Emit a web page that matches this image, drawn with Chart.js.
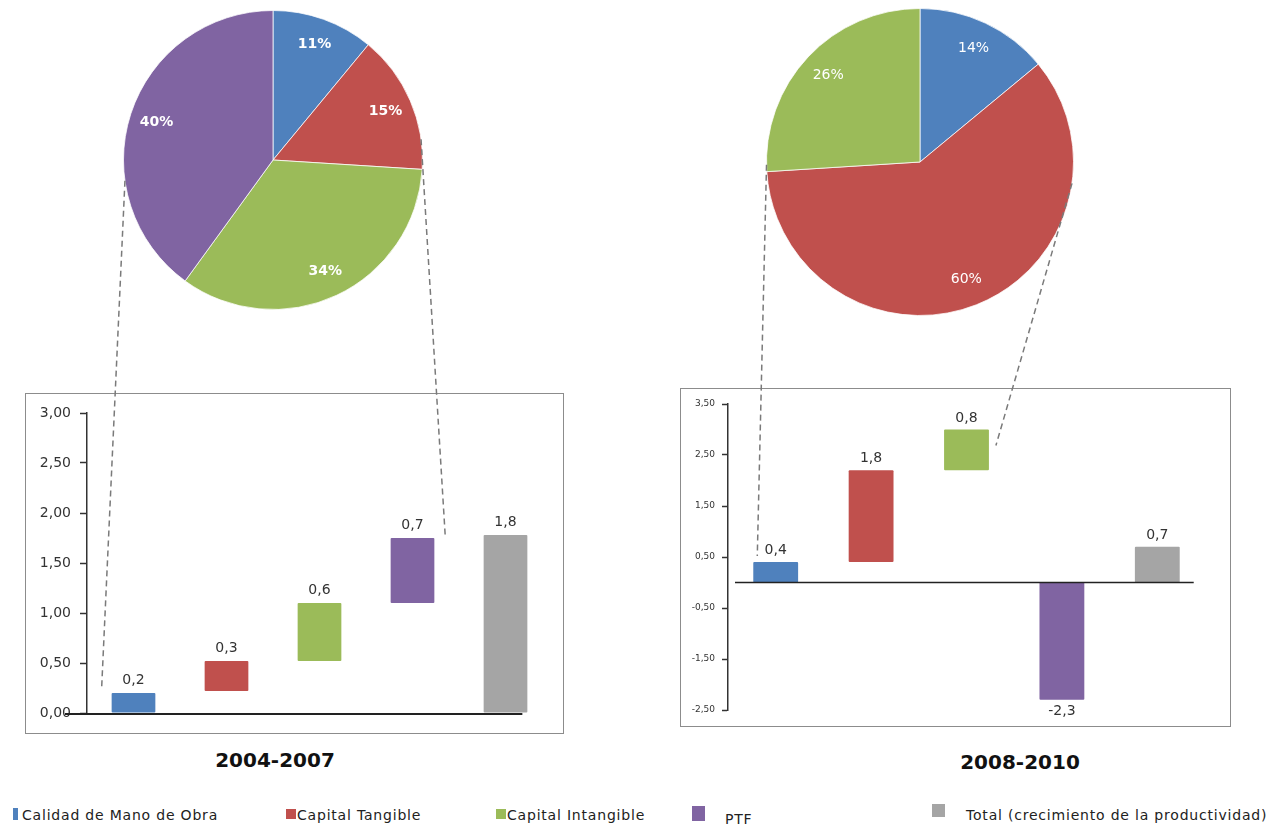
<!DOCTYPE html>
<html><head><meta charset="utf-8">
<script src="https://cdn.jsdelivr.net/npm/chart.js@4.4.1/dist/chart.umd.min.js"></script>
<style>
html,body{margin:0;padding:0;background:#fff;width:1270px;height:825px;overflow:hidden;font-family:"DejaVu Sans",sans-serif;}
.abs{position:absolute;}
.box{position:absolute;border:1px solid #8c8c8c;background:#fff;}
#box1{left:25px;top:393px;width:537px;height:339px;}
#box2{left:680px;top:388px;width:549px;height:337px;}
.box canvas{position:absolute;left:0;top:0;}
.title{position:absolute;font-weight:bold;font-size:20px;color:#111;text-align:center;width:200px;line-height:24px;}
.lg{position:absolute;font-size:14px;letter-spacing:0.8px;color:#222;line-height:18px;white-space:nowrap;}
.sw{position:absolute;}
#overlay{position:absolute;left:0;top:0;z-index:5;pointer-events:none;}
</style>
</head>
<body>
<canvas id="pie1" class="abs" width="320" height="320" style="left:113px;top:0px"></canvas>
<canvas id="pie2" class="abs" width="324" height="324" style="left:758px;top:0px"></canvas>
<div id="box1" class="box"><canvas id="bar1" width="537" height="339"></canvas></div>
<div id="box2" class="box"><canvas id="bar2" width="549" height="337"></canvas></div>
<div id="t1" class="title" style="left:175px;top:748px"></div>
<div id="t2" class="title" style="left:920px;top:750px"></div>
<div id="legend"></div>
<canvas id="overlay" width="1270" height="825"></canvas>
<script>
// ---------- data ----------
const categories = ['Calidad de Mano de Obra','Capital Tangible','Capital Intangible','PTF','Total (crecimiento de la productividad)'];
const colors = ['#4F81BD','#C0504D','#9BBB59','#8064A2','#A5A5A5'];
const periods = ['2004-2007','2008-2010'];

const pie1Values = [11, 15, 34, 40];
const pie2Values = [14, 60, 26];

const bar1Start = [0, 0.22, 0.52, 1.10, 0];
const bar1End   = [0.20, 0.52, 1.10, 1.75, 1.78];
const bar1Text  = ['0,2','0,3','0,6','0,7','1,8'];
const bar1Ticks = [0, 0.5, 1, 1.5, 2, 2.5, 3];

const bar2Start = [0, 0.4, 2.2, 0, 0];
const bar2End   = [0.4, 2.2, 3.0, -2.3, 0.7];
const bar2Text  = ['0,4','1,8','0,8','-2,3','0,7'];
const bar2Ticks = [-2.5, -1.5, -0.5, 0.5, 1.5, 2.5, 3.5];

// ---------- plugins ----------
const pieLabels = {
  id:'pieLabels',
  afterDatasetsDraw(chart, args, o){
    const ctx = chart.ctx;
    const ds = chart.data.datasets[0];
    ctx.save();
    ctx.font = o.font;
    ctx.fillStyle = '#fff';
    ctx.textAlign = 'center';
    ctx.textBaseline = 'middle';
    chart.getDatasetMeta(0).data.forEach((arc,i)=>{
      const v = ds.data[i];
      if(!v) return;
      const mid = (arc.startAngle + arc.endAngle)/2;
      const r = arc.outerRadius * o.r;
      ctx.fillText(v + '%', arc.x + Math.cos(mid)*r, arc.y + Math.sin(mid)*r);
    });
    ctx.restore();
  }
};

const barValues = {
  id:'barValues',
  afterDatasetsDraw(chart, args, o){
    const ctx = chart.ctx;
    const ds = chart.data.datasets[0];
    ctx.save();
    ctx.font = o.font;
    ctx.fillStyle = '#333';
    ctx.textAlign = 'center';
    chart.getDatasetMeta(0).data.forEach((el,i)=>{
      const [s,e] = ds.data[i];
      if (e < 0) {
        ctx.textBaseline = 'top';
        ctx.fillText(o.texts[i], el.x, Math.max(el.y, el.base) + o.gapBelow);
      } else {
        ctx.textBaseline = 'alphabetic';
        ctx.fillText(o.texts[i], el.x, Math.min(el.y, el.base) - o.gapAbove);
      }
    });
    ctx.restore();
  }
};

const zeroLine = {
  id:'zeroLine',
  afterDatasetsDraw(chart, args, o){
    const ctx = chart.ctx;
    const y = chart.scales.y.getPixelForValue(0);
    const bars = chart.getDatasetMeta(0).data;
    const last = bars[bars.length-1];
    ctx.save();
    ctx.strokeStyle = o.color;
    ctx.lineWidth = o.width;
    ctx.beginPath();
    ctx.moveTo(chart.chartArea.left - o.extLeft, y + o.dy);
    ctx.lineTo(last.x + last.width/2 + o.extRight, y + o.dy);
    ctx.stroke();
    ctx.restore();
  }
};

// ---------- charts ----------
function pieChart(id, values, pad, font){
  return new Chart(document.getElementById(id), {
    type:'pie',
    data:{labels:categories.slice(0, values.length),
      datasets:[{data:values, backgroundColor:colors.slice(0, values.length),
        borderColor:'rgba(255,255,255,0.75)', borderWidth:1}]},
    options:{responsive:false, animation:false, events:[],
      layout:{padding:pad},
      plugins:{legend:{display:false}, tooltip:{enabled:false},
        pieLabels:{font:font, r:0.82}}},
    plugins:[pieLabels]
  });
}

function barChart(id, start, end, texts, ticks, o){
  return new Chart(document.getElementById(id), {
    type:'bar',
    data:{labels:categories,
      datasets:[{data:start.map((s,i)=>[s, end[i]]), backgroundColor:colors,
        borderWidth:0, borderSkipped:false, borderRadius:1,
        barPercentage:o.barPct, categoryPercentage:1}]},
    options:{responsive:false, animation:false, events:[],
      layout:{padding:o.padding},
      plugins:{legend:{display:false}, tooltip:{enabled:false},
        barValues:{texts:texts, font:'14px "DejaVu Sans"', gapAbove:o.gapAbove, gapBelow:o.gapBelow},
        zeroLine:{color:'#222', width:o.zeroWidth, extLeft:o.extLeft, extRight:o.extRight, dy:o.zeroDy}},
      scales:{
        x:{display:false},
        y:{min:ticks[0], max:ticks[ticks.length-1],
          afterBuildTicks:s=>{ s.ticks = ticks.map(v=>({value:v})); },
          afterFit:s=>{ s.width = o.axisWidth; },
          border:{display:true, color:'#333', width:1.5},
          grid:{drawOnChartArea:false, drawTicks:true, tickLength:o.tickLength, tickColor:'#333', tickWidth:1.5},
          ticks:{padding:o.tickPad, color:'#333', font:{family:'"DejaVu Sans"', size:o.tickSize},
            callback:v=>Number(v).toFixed(2).replace('.', ',')}
        }
      }
    },
    plugins:[barValues, zeroLine]
  });
}

const pie1 = pieChart('pie1', pie1Values, 10, 'bold 14px "DejaVu Sans"');
const pie2 = pieChart('pie2', pie2Values, 8, '14px "DejaVu Sans"');

const bar1 = barChart('bar1', bar1Start, bar1End, bar1Text, bar1Ticks, {
  barPct:0.47, padding:{top:19, right:11, bottom:20, left:0}, axisWidth:61,
  tickLength:7, tickPad:9, tickSize:14, gapAbove:9, gapBelow:5,
  zeroWidth:2, extLeft:22, extRight:-5, zeroDy:1
});
const bar2 = barChart('bar2', bar2Start, bar2End, bar2Text, bar2Ticks, {
  barPct:0.47, padding:{top:15, right:25, bottom:16, left:0}, axisWidth:47,
  tickLength:6, tickPad:7, tickSize:9, gapAbove:8, gapBelow:5,
  zeroWidth:1.5, extLeft:-7, extRight:14, zeroDy:0
});

// ---------- titles & legend ----------
document.getElementById('t1').textContent = periods[0];
document.getElementById('t2').textContent = periods[1];

const legendLayout = [
  {sw:[13,808,5,12],  tx:[22,806]},
  {sw:[286,809,10,10], tx:[297,806]},
  {sw:[496,809,10,10], tx:[507,806]},
  {sw:[692,806,13,15], tx:[725,810]},
  {sw:[932,804,13,13], tx:[966,806]}
];
const lg = document.getElementById('legend');
categories.forEach((c,i)=>{
  const L = legendLayout[i];
  const s = document.createElement('div');
  s.className = 'sw';
  s.style.cssText = `left:${L.sw[0]}px;top:${L.sw[1]}px;width:${L.sw[2]}px;height:${L.sw[3]}px;background:${colors[i]};`;
  lg.appendChild(s);
  const t = document.createElement('div');
  t.className = 'lg';
  t.style.left = L.tx[0]+'px'; t.style.top = L.tx[1]+'px';
  t.textContent = c;
  lg.appendChild(t);
});

// ---------- dashed connectors (computed from chart geometry) ----------
function offsetOf(chart){
  const r = chart.canvas.getBoundingClientRect();
  return {x:r.left, y:r.top};
}
function piePoint(chart, deg){
  const arc = chart.getDatasetMeta(0).data[0];
  const off = offsetOf(chart);
  const a = (deg - 90) * Math.PI/180;
  return {x: off.x + arc.x + Math.cos(a)*arc.outerRadius, y: off.y + arc.y + Math.sin(a)*arc.outerRadius};
}
function barPoint(chart, idx, side, dx, dy){
  const el = chart.getDatasetMeta(0).data[idx];
  const off = offsetOf(chart);
  const x = side === 'left' ? el.x - el.width/2 : el.x + el.width/2;
  const y = Math.min(el.y, el.base);
  return {x: off.x + x + dx, y: off.y + y + dy};
}
const connectors = [
  {pie:pie1, deg:262, bar:bar1, idx:0, side:'left',  dx:-10, dy:-5},
  {pie:pie1, deg:82,  bar:bar1, idx:3, side:'right', dx:11,  dy:0},
  {pie:pie2, deg:269, bar:bar2, idx:0, side:'left',  dx:4,   dy:-6},
  {pie:pie2, deg:98,  bar:bar2, idx:2, side:'right', dx:7,   dy:16}
];
const octx = document.getElementById('overlay').getContext('2d');
octx.strokeStyle = '#7a7a7a';
octx.lineWidth = 1.5;
octx.setLineDash([6,4]);
connectors.forEach(c=>{
  const p = piePoint(c.pie, c.deg);
  const b = barPoint(c.bar, c.idx, c.side, c.dx, c.dy);
  octx.beginPath();
  octx.moveTo(p.x, p.y);
  octx.lineTo(b.x, b.y);
  octx.stroke();
});
</script>
</body></html>
